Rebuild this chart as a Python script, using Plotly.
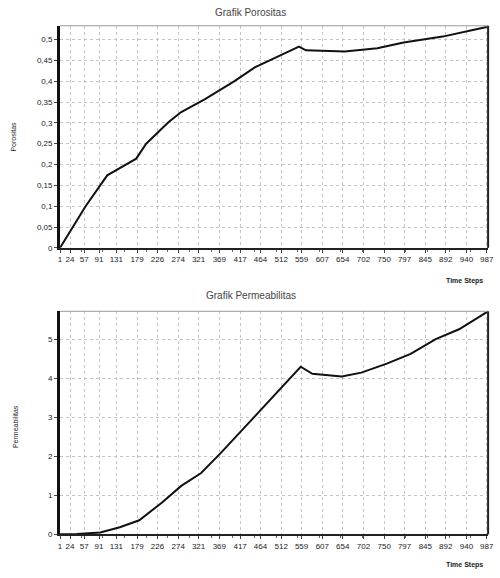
import plotly.graph_objects as go

# Time-step tick labels (linear axis, values = labels)
tick_steps = [1, 24, 57, 91, 131, 179, 226, 274, 321, 369, 417, 464, 512,
              559, 607, 654, 702, 750, 797, 845, 892, 940, 987]

# Porositas series
por_t = [1, 33, 60, 110, 177, 200, 252, 281, 336, 404, 451, 553, 569,
         659, 734, 795, 885, 960, 987]
por_v = [0.0, 0.055, 0.10, 0.174, 0.214, 0.25, 0.302, 0.326, 0.357, 0.40,
         0.433, 0.483, 0.474, 0.471, 0.479, 0.493, 0.507, 0.524, 0.53]

# Permeabilitas series
perm_t = [1, 40, 94, 139, 184, 236, 281, 327, 372, 422, 451, 557, 584,
          652, 697, 756, 811, 869, 923, 987]
perm_v = [0.0, 0.01, 0.05, 0.18, 0.36, 0.81, 1.24, 1.57, 2.08, 2.69, 3.02,
          4.29, 4.11, 4.04, 4.14, 4.37, 4.62, 5.0, 5.25, 5.69]

por_ticks = [0, 0.05, 0.1, 0.15, 0.2, 0.25, 0.3, 0.35, 0.4, 0.45, 0.5]
perm_ticks = [0, 1, 2, 3, 4, 5]

W, H = 500, 578
FONT = "Liberation Sans"

fig = go.Figure()
fig.add_trace(go.Scatter(x=por_t, y=por_v, mode="lines",
                         line=dict(color="#111111", width=2),
                         xaxis="x", yaxis="y", showlegend=False))
fig.add_trace(go.Scatter(x=perm_t, y=perm_v, mode="lines",
                         line=dict(color="#111111", width=2),
                         xaxis="x2", yaxis="y2", showlegend=False))

def px(x):
    return x / W

def py(y):
    return 1 - y / H

xcommon = dict(range=[1, 990], tickvals=tick_steps,
               ticktext=[str(v) for v in tick_steps],
               tickfont=dict(family=FONT, size=8, color="#222"),
               showgrid=True, gridcolor="#c4c4c4", griddash="dot", gridwidth=1,
               showline=True, linecolor="#222", linewidth=2, mirror=False,
               ticks="outside", ticklen=3, tickcolor="#444",
               minor=dict(ticks="outside", ticklen=2, tickcolor="#666", nticks=5),
               tickangle=0, zeroline=False, fixedrange=True)
ycommon = dict(tickfont=dict(family=FONT, size=8, color="#222"),
               showgrid=True, gridcolor="#c4c4c4", griddash="dot", gridwidth=1,
               showline=True, linecolor="#111", linewidth=3,
               ticks="outside", ticklen=3, tickcolor="#444",
               zeroline=False, fixedrange=True)

def ann(text, x, y, size, color="#222", angle=0):
    return dict(text=text, x=px(x), y=py(y), xref="paper", yref="paper",
                xanchor="center", yanchor="middle", showarrow=False,
                textangle=angle, font=dict(family=FONT, size=size, color=color))

fig.update_layout(
    width=W, height=H,
    margin=dict(l=0, r=0, t=0, b=0),
    paper_bgcolor="white", plot_bgcolor="white",
    separators=", ",
    xaxis=dict(domain=[px(59), px(494)], anchor="y", **xcommon),
    yaxis=dict(domain=[py(250), py(26)], anchor="x", range=[0, 0.533],
               tickvals=por_ticks, **ycommon),
    xaxis2=dict(domain=[px(59), px(494)], anchor="y2", **xcommon),
    yaxis2=dict(domain=[py(539), py(314)], anchor="x2", range=[0, 5.71],
                tickvals=perm_ticks, **ycommon),
    shapes=[
        dict(type="line", xref="paper", yref="paper", x0=px(59), x1=px(494),
             y0=py(26), y1=py(26), line=dict(color="#999", width=1)),
        dict(type="line", xref="paper", yref="paper", x0=px(494), x1=px(494),
             y0=py(250), y1=py(26), line=dict(color="#222", width=2)),
        dict(type="line", xref="paper", yref="paper", x0=px(59), x1=px(494),
             y0=py(314), y1=py(314), line=dict(color="#999", width=1)),
        dict(type="line", xref="paper", yref="paper", x0=px(494), x1=px(494),
             y0=py(539), y1=py(314), line=dict(color="#222", width=2)),
    ],
    annotations=[
        ann("Grafik Porositas", 253, 13, 10, "#444"),
        ann("Grafik Permeabilitas", 253, 298, 10, "#444"),
        ann("Porositas", 12, 138, 7, angle=-90),
        ann("Permeabilitas", 14, 430, 7, angle=-90),
        ann("<b>Time Steps</b>", 470, 283, 7),
        ann("<b>Time Steps</b>", 470, 570, 7),
    ],
)

fig.write_html("out.html", config={"displayModeBar": False},
               post_script="document.body.style.margin='0';")
